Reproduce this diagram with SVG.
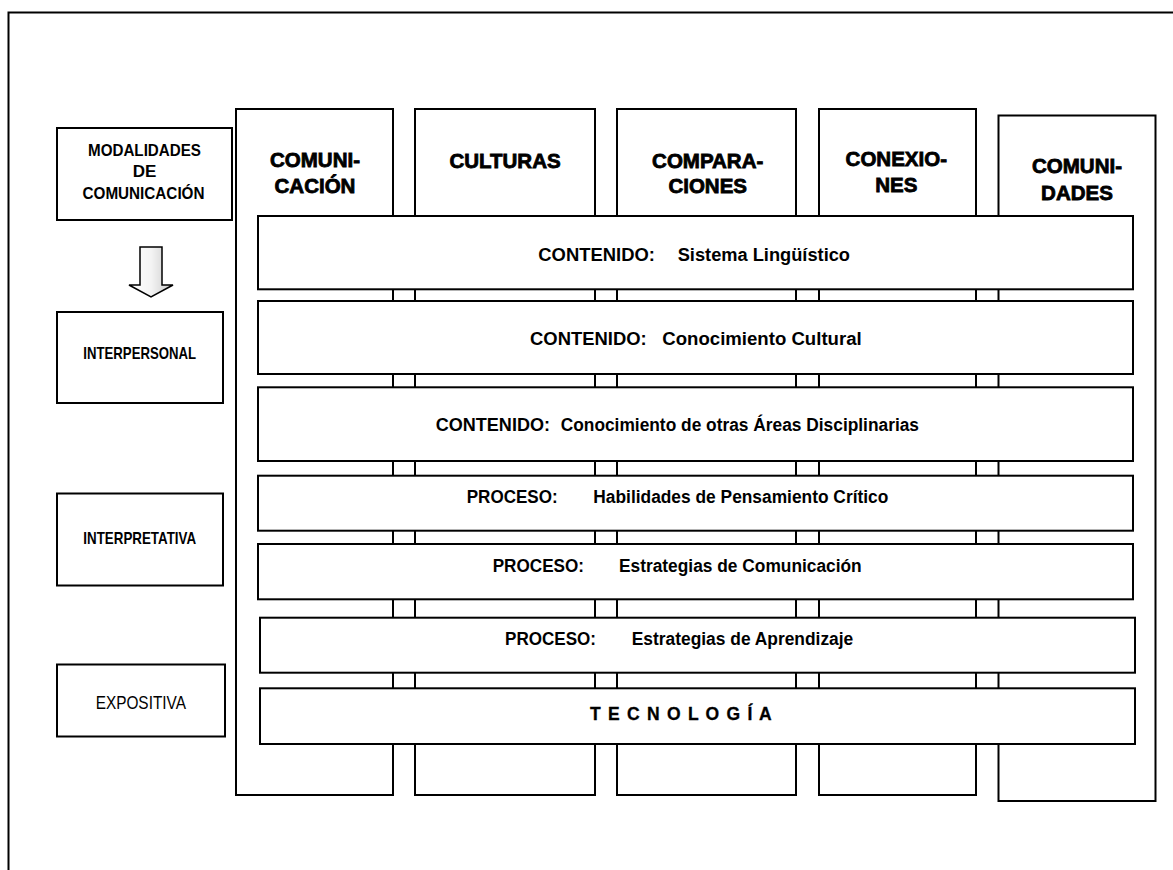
<svg xmlns="http://www.w3.org/2000/svg" width="1173" height="870" viewBox="0 0 1173 870">
<defs>
<linearGradient id="ag" x1="0" y1="0" x2="1" y2="0">
<stop offset="0" stop-color="#ffffff"/>
<stop offset="0.5" stop-color="#f4f4f4"/>
<stop offset="1" stop-color="#c8c8c8"/>
</linearGradient>
<style>
.box{fill:#fff;stroke:#000;stroke-width:2}
.col{font-family:"Liberation Sans",Arial,sans-serif;font-weight:bold;font-size:20.5px;fill:#000;stroke:#000;stroke-width:0.8;text-anchor:middle}
.bar{font-family:"Liberation Sans",Arial,sans-serif;font-weight:bold;font-size:17.5px;fill:#000}
.mod{font-family:"Liberation Sans",Arial,sans-serif;font-weight:bold;font-size:17px;fill:#000;text-anchor:middle}
.modr{font-family:"Liberation Sans",Arial,sans-serif;font-size:17.5px;fill:#000;text-anchor:middle}
</style>
</defs>
<rect width="1173" height="870" fill="#fff"/>
<path d="M8.5,870 V12.5 H1173" fill="none" stroke="#000" stroke-width="2"/>

<g id="modalidades">
<rect class="box" x="57" y="128" width="175" height="92"/>
<text class="mod" x="144.5" y="156" textLength="113" lengthAdjust="spacingAndGlyphs">MODALIDADES</text>
<text class="mod" x="144.5" y="177">DE</text>
<text class="mod" x="143.5" y="199" textLength="122" lengthAdjust="spacingAndGlyphs">COMUNICACIÓN</text>
</g>

<g id="connectors">
<polygon points="140,247 162,247 162,285 173,285 151,297 129,285 140,285" fill="url(#ag)" stroke="#000" stroke-width="1.5"/>
</g>

<g id="interpersonal">
<rect class="box" x="57" y="312" width="166" height="91"/>
<text class="mod" x="139.7" y="359.3" font-size="15" textLength="112.7" lengthAdjust="spacingAndGlyphs">INTERPERSONAL</text>
</g>
<g id="interpretativa">
<rect class="box" x="57" y="493.5" width="166" height="92"/>
<text class="mod" x="139.7" y="544.3" font-size="15" textLength="112.7" lengthAdjust="spacingAndGlyphs">INTERPRETATIVA</text>
</g>
<g id="expositiva">
<rect class="box" x="57" y="664.5" width="168" height="72"/>
<text class="modr" x="140.8" y="709" textLength="90.3" lengthAdjust="spacingAndGlyphs">EXPOSITIVA</text>
</g>

<g id="col-comunicacion">
<rect class="box" x="236" y="109" width="157" height="686"/>
<text class="col" x="315" y="166.7">COMUNI-</text>
<text class="col" x="315" y="193.3">CACIÓN</text>
</g>
<g id="col-culturas">
<rect class="box" x="415" y="109" width="180" height="686"/>
<text class="col" x="505" y="167.7">CULTURAS</text>
</g>
<g id="col-comparaciones">
<rect class="box" x="617" y="109" width="179" height="686"/>
<text class="col" x="707.7" y="167.7">COMPARA-</text>
<text class="col" x="707.7" y="192.7">CIONES</text>
</g>
<g id="col-conexiones">
<rect class="box" x="819" y="109" width="157" height="686"/>
<text class="col" x="896.3" y="166">CONEXIO-</text>
<text class="col" x="896.3" y="191.7">NES</text>
</g>
<g id="col-comunidades">
<rect class="box" x="998.5" y="115.5" width="157" height="685.5"/>
<text class="col" x="1077" y="173.3">COMUNI-</text>
<text class="col" x="1077" y="200">DADES</text>
</g>

<g id="bar-sistema">
<rect class="box" x="258" y="216" width="875" height="73.3"/>
<text class="bar" x="538.3" y="261" textLength="116.7" lengthAdjust="spacingAndGlyphs">CONTENIDO:</text>
<text class="bar" x="677.7" y="261" textLength="172.3" lengthAdjust="spacingAndGlyphs">Sistema Lingüístico</text>
</g>
<g id="bar-cultural">
<rect class="box" x="258" y="301" width="875" height="73"/>
<text class="bar" x="530" y="345" textLength="116.7" lengthAdjust="spacingAndGlyphs">CONTENIDO:</text>
<text class="bar" x="662.3" y="345" textLength="199.4" lengthAdjust="spacingAndGlyphs">Conocimiento Cultural</text>
</g>
<g id="bar-areas">
<rect class="box" x="258" y="387.3" width="875" height="73.7"/>
<text class="bar" x="435.7" y="430.7" textLength="114.3" lengthAdjust="spacingAndGlyphs">CONTENIDO:</text>
<text class="bar" x="560.7" y="430.7" textLength="358.3" lengthAdjust="spacingAndGlyphs">Conocimiento de otras Áreas Disciplinarias</text>
</g>
<g id="bar-pensamiento">
<rect class="box" x="258" y="475.7" width="875" height="55"/>
<text class="bar" x="466.7" y="503.3" textLength="91" lengthAdjust="spacingAndGlyphs">PROCESO:</text>
<text class="bar" x="593.3" y="503.3" textLength="295" lengthAdjust="spacingAndGlyphs">Habilidades de Pensamiento Crítico</text>
</g>
<g id="bar-comunicacion">
<rect class="box" x="258" y="544" width="875" height="55.3"/>
<text class="bar" x="492.7" y="571.7" textLength="91.3" lengthAdjust="spacingAndGlyphs">PROCESO:</text>
<text class="bar" x="619" y="571.7" textLength="242.7" lengthAdjust="spacingAndGlyphs">Estrategias de Comunicación</text>
</g>
<g id="bar-aprendizaje">
<rect class="box" x="260" y="617.7" width="875" height="55"/>
<text class="bar" x="505" y="645" textLength="91" lengthAdjust="spacingAndGlyphs">PROCESO:</text>
<text class="bar" x="631.7" y="645" textLength="221.6" lengthAdjust="spacingAndGlyphs">Estrategias de Aprendizaje</text>
</g>
<g id="bar-tecnologia">
<rect class="box" x="260" y="688.3" width="875" height="55.7"/>
<text class="bar" x="590" y="720" font-size="21" stroke="#000" stroke-width="0.3" textLength="181.7" lengthAdjust="spacing">T E C N O L O G Í A</text>
</g>
</svg>
